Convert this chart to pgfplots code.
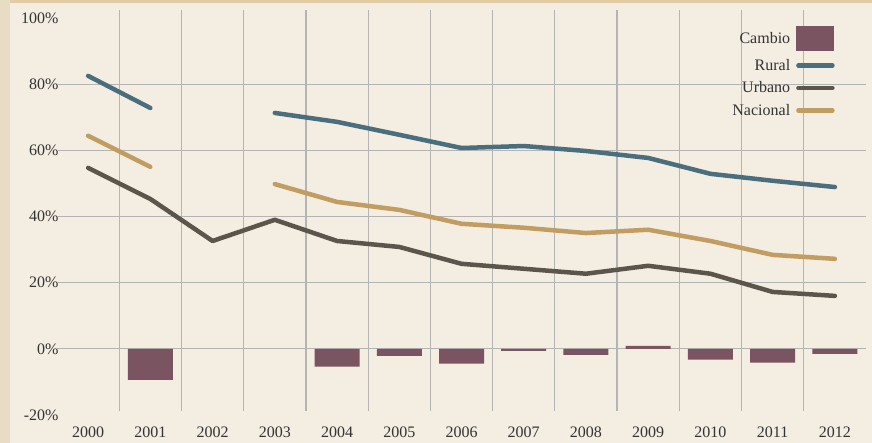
\documentclass[border=0pt]{standalone}
\usepackage{pgfplots}
\pgfplotsset{compat=1.18}
\usepackage{fontspec}
\setmainfont{Liberation Serif}
\definecolor{rural}{HTML}{4B6E7E}
\definecolor{urbano}{HTML}{5B554C}
\definecolor{nacional}{HTML}{C29D62}
\definecolor{cambio}{HTML}{7B5461}
\definecolor{bg}{HTML}{F3EDE2}
\definecolor{leftb}{HTML}{E8DCC5}
\definecolor{topb}{HTML}{E2CCA6}
\definecolor{gridc}{HTML}{B4B4B4}
\definecolor{txt}{HTML}{333333}
\begin{document}
\begin{tikzpicture}
\fill[leftb] (-57pt,-28pt) rectangle (815pt,415pt);
\fill[bg] (-47pt,-28pt) rectangle (815pt,412pt);
\fill[topb] (-47pt,412pt) rectangle (815pt,415pt);
\begin{axis}[
  at={(0pt,0pt)}, anchor=south west,
  scale only axis, width=809pt, height=397pt,
  xmin=-0.5, xmax=12.5, ymin=-20, ymax=100,
  clip=false,
  axis line style={draw=none}, major tick length=0pt,
  xtick={0,...,12},
  xticklabels={2000,2001,2002,2003,2004,2005,2006,2007,2008,2009,2010,2011,2012},
  ytick={-20,0,20,40,60,80,100},
  yticklabels={-20\%,0\%,20\%,40\%,60\%,80\%,100\%},
  tick label style={font=\fontsize{16}{17}\selectfont, text=txt},
  xticklabel style={yshift=-8pt},
  yticklabel style={xshift=5pt},
  unbounded coords=jump,
  legend plot pos=right,
  legend cell align=right,
  legend style={at={(axis cs:12,97.6)}, anchor=north east, draw=none, fill=none,
    font=\fontsize{16}{17}\selectfont, text=txt, inner sep=0pt, row sep=6pt, column sep=4pt},
]
\foreach \yy in {0,20,40,60,80} {
  \edef\tmp{\noexpand\draw[gridc, line width=1.1pt] (axis cs:-0.5,\yy) -- (axis cs:12.5,\yy);}\tmp
}
\foreach \xx in {0.5,1.5,2.5,3.5,4.5,5.5,6.5,7.5,8.5,9.5,10.5,11.5} {
  \edef\tmp{\noexpand\draw[gridc, line width=1.2pt] (axis cs:\xx,-18.7) -- (axis cs:\xx,102.4);}\tmp
}
\addplot[ybar, bar width=45pt, fill=cambio, draw=none,
  legend image code/.code={\fill[cambio] (0pt,-12.5pt) rectangle (38pt,12.5pt);}]
  coordinates {(1,-9.4) (4,-5.4) (5,-2.1) (6,-4.5) (7,-0.6) (8,-1.8) (9,0.9) (10,-3.3) (11,-4.2) (12,-1.5)};
\addlegendentry{Cambio}
\addplot[rural, line width=4.5pt, line cap=round, line join=round,
  legend image code/.code={\draw[rural, line width=4.5pt, line cap=round] (2pt,0pt) -- (36pt,0pt);}]
  coordinates {(0,82.5) (1,72.8) (2,nan) (3,71.3) (4,68.6) (5,64.7) (6,60.7) (7,61.3) (8,59.8) (9,57.7) (10,52.9) (11,50.8) (12,48.9)};
\addlegendentry{Rural}
\addplot[urbano, line width=4.5pt, line cap=round, line join=round,
  legend image code/.code={\draw[urbano, line width=4.5pt, line cap=round] (2pt,0pt) -- (36pt,0pt);}]
  coordinates {(0,54.7) (1,45.3) (2,32.6) (3,39.0) (4,32.6) (5,30.8) (6,25.7) (7,24.2) (8,22.7) (9,25.1) (10,22.7) (11,17.2) (12,16.0)};
\addlegendentry{Urbano}
\addplot[nacional, line width=4.5pt, line cap=round, line join=round,
  legend image code/.code={\draw[nacional, line width=4.5pt, line cap=round] (2pt,0pt) -- (36pt,0pt);}]
  coordinates {(0,64.4) (1,55.0) (2,nan) (3,49.8) (4,44.4) (5,42.0) (6,37.8) (7,36.6) (8,35.0) (9,36.0) (10,32.6) (11,28.4) (12,27.2)};
\addlegendentry{Nacional}
\end{axis}
\end{tikzpicture}
\end{document}
